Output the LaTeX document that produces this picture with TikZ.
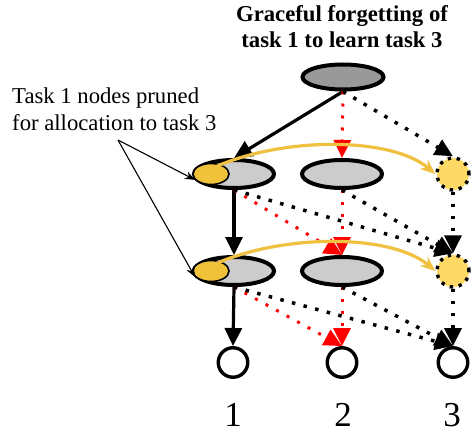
\documentclass[tikz,border=0pt]{standalone}
\usepackage{fontspec}
\setmainfont{Liberation Serif}
\usetikzlibrary{shapes.geometric,arrows.meta,calc}
\definecolor{topgray}{RGB}{153,153,153}
\definecolor{hidgray}{RGB}{204,204,204}
\definecolor{prunedyellow}{RGB}{240,194,58}
\definecolor{newyellow}{RGB}{254,217,102}
\definecolor{arcyellow}{RGB}{240,192,64}
\begin{document}
\begin{tikzpicture}[x=1pt,y=-1pt,
  topnode/.style={ellipse, draw=black, line width=4pt, fill=topgray, minimum width=81pt, minimum height=25pt, inner sep=0pt},
  hidnode/.style={ellipse, draw=black, line width=4pt, fill=hidgray, minimum width=80pt, minimum height=28pt, inner sep=0pt},
  prunednode/.style={ellipse, draw=black, line width=1.6pt, fill=prunedyellow, minimum width=36pt, minimum height=21pt, inner sep=0pt},
  newnode/.style={circle, draw=black, line width=3.4pt, dash pattern=on 3.4pt off 5.6pt, fill=newyellow, minimum size=32pt, inner sep=0pt},
  outnode/.style={circle, draw=black, line width=3.4pt, fill=white, minimum size=29.5pt, inner sep=0pt},
  solidarr/.style={draw=black, line width=3.2pt, -{Triangle[length=18pt,width=17pt]}},
  blkdot/.style={draw=black, line width=3.5pt, dash pattern=on 3.5pt off 8.5pt, -{Triangle[length=18pt,width=17pt]}},
  reddot/.style={draw=red, line width=3pt, dash pattern=on 3pt off 9pt, -{Triangle[length=18pt,width=17pt]}},
  arcarr/.style={draw=arcyellow, line width=3.2pt, -{Stealth[length=15pt,width=12pt]}},
  thinarr/.style={draw=black, line width=1.1pt, -{Stealth[length=10pt,width=8pt]}},
  numlbl/.style={font=\fontsize{35}{40}\selectfont, anchor=base, inner sep=0pt}
]
\useasboundingbox (0,0) rectangle (474,433);

% texts
\node[font=\bfseries\fontsize{22.7}{26}\selectfont, align=center, anchor=north, inner sep=0pt] (title) at (342,5.5) {Graceful forgetting of\\task 1 to learn task 3};
\node[font=\fontsize{22.7}{27}\selectfont, align=left, anchor=north west, inner sep=0pt] (lbl) at (12,87.5) {Task 1 nodes pruned\\for allocation to task 3};

% nodes
\node[topnode] (T) at (343,77) {};
\node[hidnode] (L1) at (234,174) {};
\node[prunednode] (Y1) at (211,174) {};
\node[hidnode] (M1) at (342,174) {};
\node[newnode] (R1) at (453,174) {};
\node[hidnode] (L2) at (234,271) {};
\node[prunednode] (Y2) at (211,271) {};
\node[hidnode] (M2) at (342,271) {};
\node[newnode] (R2) at (453,271) {};
\node[outnode] (O1) at (233,362.5) {};
\node[outnode] (O2) at (342,362.5) {};
\node[outnode] (O3) at (453,362.5) {};

\node[numlbl] (n1) at (233,426.5) {1};
\node[numlbl] (n2) at (343,426.5) {2};
\node[numlbl] (n3) at (452,426.5) {3};

% edges top -> row 1
\draw[solidarr] (T.south) -- (L1.north);
\draw[reddot] (T.south) -- (M1.north);
\draw[blkdot] (T.south) -- (R1.north);
% row 1 -> row 2
\draw[solidarr] (L1.south) -- (L2.north);
\draw[reddot] (L1.south) -- (M2.north);
\draw[blkdot] (L1.south) -- (R2.north);
\draw[reddot] (M1.south) -- (M2.north);
\draw[blkdot] (M1.south) -- (R2.north);
\draw[blkdot] (R1.south) -- (R2.north);
% row 2 -> outputs
\draw[solidarr] (L2.south) -- (O1.north);
\draw[reddot] (L2.south) -- (O2.north);
\draw[blkdot] (L2.south) -- (O3.north);
\draw[reddot] (M2.south) -- (O2.north);
\draw[blkdot] (M2.south) -- (O3.north);
\draw[blkdot] (R2.south) -- (O3.north);

% reallocation arcs
\coordinate (a1) at ($(Y1.center)+(2,-6)$);
\coordinate (a2) at ($(Y2.center)+(2,-6)$);
\draw[arcarr] (a1) .. controls +(67,-31) and +(-45,-38) .. (R1.west);
\draw[arcarr] (a2) .. controls +(67,-31) and +(-45,-38) .. (R2.west);

% label arrows
\coordinate (lsrc) at (118,140);
\draw[thinarr] (lsrc) -- (Y1.200);
\draw[thinarr] (lsrc) -- (Y2.200);
\end{tikzpicture}
\end{document}
